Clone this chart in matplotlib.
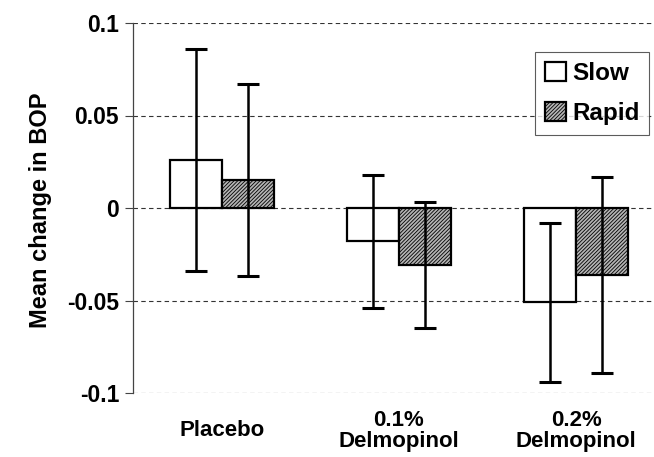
import numpy as np
import matplotlib
matplotlib.use("Agg")
import matplotlib.pyplot as plt

plt.rcParams['font.family'] = ['Liberation Sans', 'DejaVu Sans']
plt.rcParams['hatch.linewidth'] = 0.6

# Data
categories = ["Placebo", "0.1%\nDelmopinol", "0.2%\nDelmopinol"]
slow_mean = [0.026, -0.018, -0.051]
slow_err = [0.060, 0.036, 0.043]
rapid_mean = [0.015, -0.031, -0.036]
rapid_err = [0.052, 0.034, 0.053]
yticks = [-0.1, -0.05, 0, 0.05, 0.1]
yticklabels = ["-0.1", "-0.05", "0", "0.05", "0.1"]

fig = plt.figure(figsize=(6.54, 4.57), dpi=100)
ax = fig.add_axes([133 / 654, 1 - 393 / 457, 532 / 654, 370 / 457])

x = np.arange(len(categories))
w = 0.294

ax.bar(x - w / 2, slow_mean, w, color='white', edgecolor='black',
       linewidth=1.6, label='Slow', zorder=2)
ax.bar(x + w / 2, rapid_mean, w, color='#b4b4b4', edgecolor='black',
       linewidth=1.6, hatch='/////////', label='Rapid', zorder=2)

err_style = dict(fmt='none', ecolor='black', elinewidth=1.8,
                 capsize=8, capthick=2.2, zorder=3)
ax.errorbar(x - w / 2, slow_mean, yerr=slow_err, **err_style)
ax.errorbar(x + w / 2, rapid_mean, yerr=rapid_err, **err_style)

ax.set_xlim(-0.5, 2.5)
ax.set_ylim(-0.1, 0.1)
ax.set_yticks(yticks)
ax.set_yticklabels(yticklabels, fontsize=16.5, fontweight='bold')
ax.yaxis.grid(True, linestyle=(0, (4, 3)), color='#333333', linewidth=0.8)
ax.set_axisbelow(True)

ax.set_xticks(x)
ax.set_xticklabels(categories, fontsize=16, fontweight='bold',
                   linespacing=1.0)
for lbl in ax.get_xticklabels():
    lbl.set_verticalalignment('center')
ax.tick_params(axis='x', length=0, pad=27)
ax.tick_params(axis='y', length=6, width=0.8, color='#444444', pad=4)

for side in ['top', 'right', 'bottom']:
    ax.spines[side].set_visible(False)
ax.spines['left'].set_color('#444444')
ax.spines['left'].set_linewidth(0.9)

fig.text(41 / 654, 1 - 210 / 457, "Mean change in BOP", rotation=90,
         fontsize=17, fontweight='bold', ha='center', va='center')

leg = ax.legend(loc='upper right', bbox_to_anchor=(649 / 654, 1 - 52 / 457),
                bbox_transform=fig.transFigure, fancybox=False,
                prop={'size': 17.5, 'weight': 'bold'}, handlelength=0.85,
                handleheight=0.85, handletextpad=0.25, borderpad=0.4,
                labelspacing=0.7, borderaxespad=0)
leg.get_frame().set_edgecolor('#333333')
leg.get_frame().set_linewidth(0.8)

fig.savefig('out.png', dpi=100)
